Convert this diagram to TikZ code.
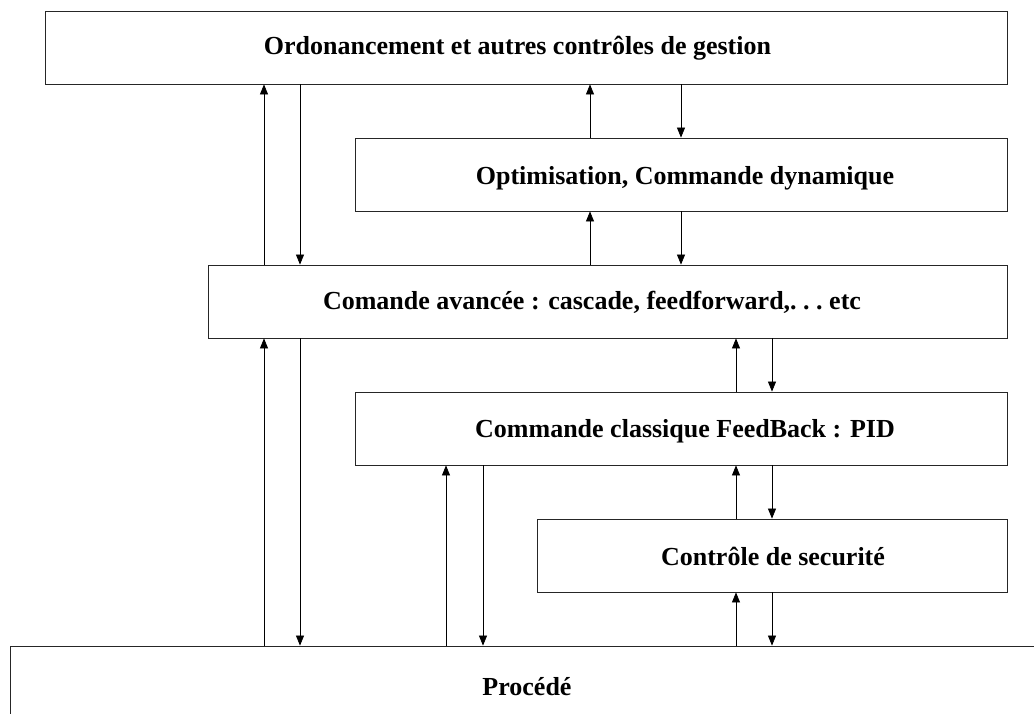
\documentclass[tikz,border=0pt]{standalone}
\usepackage{fontspec}
\setmainfont{Liberation Serif}
\usetikzlibrary{arrows.meta}
\begin{document}
\begin{tikzpicture}[x=1pt,y=-1pt,
  box/.style={draw=black!85, line width=0.8pt, rectangle, inner sep=0pt, minimum height=73pt},
  lbl/.style={anchor=base, inner sep=0pt, font=\fontsize{26}{30}\selectfont\bfseries},
  arr/.style={line width=0.7pt, -{Triangle[length=10pt,width=8pt]}}]
\useasboundingbox (0,0) rectangle (1034,713);
% boxes
\node[box, minimum width=962pt] (top) at (526,47.5) {};
\node[box, minimum width=652pt] (opt) at (681,174.5) {};
\node[box, minimum width=799pt] (adv) at (607.5,301.5) {};
\node[box, minimum width=652pt] (pid) at (681,428.5) {};
\node[box, minimum width=470pt] (sec) at (772,555.5) {};
\node[box, minimum width=1040pt, minimum height=114pt] (proc) at (530,703) {};
% labels
\node[lbl] (ttop) at (517.5,54) {Ordonancement et autres contrôles de gestion};
\node[lbl] (topt) at (685,184) {Optimisation, Commande dynamique};
\node[lbl] (tadv) at (592,309) {Comande avancée : cascade, feedforward,.\kern0.25em.\kern0.25em.\kern0.25em etc};
\node[lbl] (tpid) at (685,437) {Commande classique FeedBack : PID};
\node[lbl] (tsec) at (773,565) {Contrôle de securité};
\node[lbl] (tproc) at (527,695) {Procédé};
% x positions
\coordinate (xa) at (264,0);
\coordinate (xb) at (300,0);
\coordinate (xc) at (590,0);
\coordinate (xd) at (681,0);
\coordinate (xe) at (736,0);
\coordinate (xf) at (772,0);
\coordinate (xg) at (446,0);
\coordinate (xh) at (483,0);
% connectors
\draw[arr] (adv.north -| xa) -- (top.south -| xa);
\draw[arr] (top.south -| xb) -- (adv.north -| xb);
\draw[arr] (opt.north -| xc) -- (top.south -| xc);
\draw[arr] (top.south -| xd) -- (opt.north -| xd);
\draw[arr] (adv.north -| xc) -- (opt.south -| xc);
\draw[arr] (opt.south -| xd) -- (adv.north -| xd);
\draw[arr] (proc.north -| xa) -- (adv.south -| xa);
\draw[arr] (adv.south -| xb) -- (proc.north -| xb);
\draw[arr] (pid.north -| xe) -- (adv.south -| xe);
\draw[arr] (adv.south -| xf) -- (pid.north -| xf);
\draw[arr] (proc.north -| xg) -- (pid.south -| xg);
\draw[arr] (pid.south -| xh) -- (proc.north -| xh);
\draw[arr] (sec.north -| xe) -- (pid.south -| xe);
\draw[arr] (pid.south -| xf) -- (sec.north -| xf);
\draw[arr] (proc.north -| xe) -- (sec.south -| xe);
\draw[arr] (sec.south -| xf) -- (proc.north -| xf);
\end{tikzpicture}
\end{document}
